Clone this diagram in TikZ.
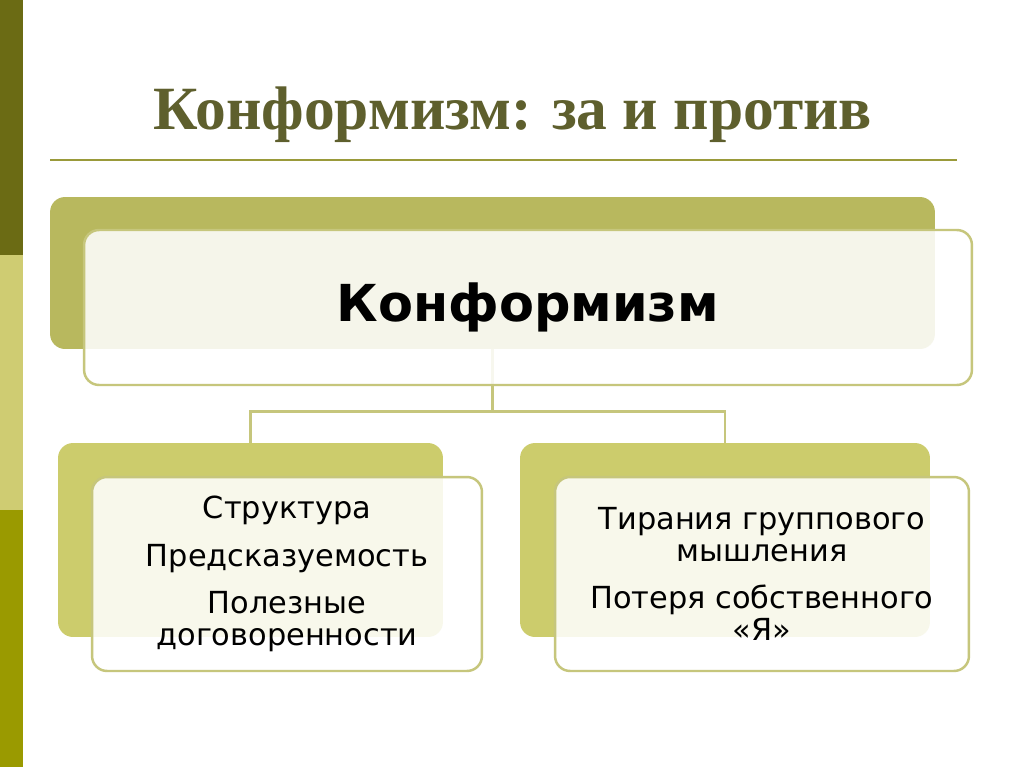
\documentclass[tikz,border=0pt]{standalone}
\usepackage{fontspec}
\setsansfont{DejaVu Sans}
\newfontfamily\titlefont{Liberation Serif}
\usetikzlibrary{calc}

\definecolor{bardark}{HTML}{6B6B14}
\definecolor{barlight}{HTML}{CFCC72}
\definecolor{barmid}{HTML}{9A9A00}
\definecolor{titlecol}{HTML}{5E5F2D}
\definecolor{rulecol}{HTML}{9A9A3A}
\definecolor{backtop}{HTML}{B8B85E}
\definecolor{backlow}{HTML}{CCCC6C}
\definecolor{edgecol}{HTML}{C6C67C}

\begin{document}
\begin{tikzpicture}[x=0.02cm, y=-0.02cm]
			\tikzset{
				backnode/.style={rectangle, rounded corners=0.3cm, draw=none, inner sep=0pt},
				frontnode/.style={rectangle, rounded corners=0.3cm, draw=edgecol, line width=1.4pt, fill=white, fill opacity=0.87, text opacity=1, inner sep=0pt, align=center, font=\sffamily},
				link/.style={draw=edgecol, line width=1.5pt},
			}
			\useasboundingbox (0,0) rectangle (1024,767);
			\fill[white] (0,0) rectangle (1024,767);

			% side bar
			\fill[bardark] (0,0) rectangle (23,255);
			\fill[barlight] (0,255) rectangle (23,510);
			\fill[barmid] (0,510) rectangle (23,767);

			% title
			\node[anchor=base, text=titlecol, font=\titlefont\bfseries\fontsize{35}{40}\selectfont] (title) at (513,130) {Конформизм: за и против};
			\draw[rulecol, line width=1.1pt] (50,160) -- (957,160);

			% back boxes
			\node[backnode, fill=backtop, minimum width=17.7cm, minimum height=3.04cm] (topback) at (492.5,273) {};
			\node[backnode, fill=backlow, minimum width=7.7cm, minimum height=3.88cm] (leftback) at (250.5,540) {};
			\node[backnode, fill=backlow, minimum width=8.2cm, minimum height=3.88cm] (rightback) at (725,540) {};

			% connectors
			\draw[link] (topback.south) -- ++(0,62) coordinate (fork);
			\draw[link] (fork) -| (leftback.north);
			\draw[link] (fork) -| (rightback.north);

			% front boxes
			\node[frontnode, minimum width=17.76cm, minimum height=3.1cm, font=\sffamily\bfseries\fontsize{29}{34}\selectfont] (top) at (528,307.5) {Конформизм};
			\node[frontnode, minimum width=7.8cm, minimum height=3.88cm, font=\sffamily\fontsize{17.3}{18}\selectfont] (pro) at (287,574) {Структура\\[9pt]Предсказуемость\\[9pt]Полезные\\договоренности};
			\node[frontnode, minimum width=8.28cm, minimum height=3.88cm, font=\sffamily\fontsize{17.3}{18}\selectfont] (contra) at (762,574) {Тирания группового\\мышления\\[9pt]Потеря собственного\\«Я»};
		\end{tikzpicture}
\end{document}
